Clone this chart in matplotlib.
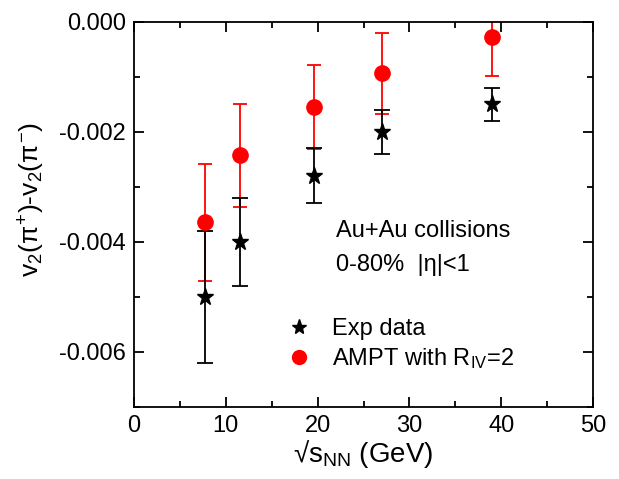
import matplotlib
matplotlib.use("Agg")
import matplotlib.pyplot as plt
from matplotlib.lines import Line2D
from matplotlib.ticker import MultipleLocator

plt.rcParams['font.family'] = ['Liberation Sans', 'DejaVu Sans']
plt.rcParams['mathtext.fontset'] = 'custom'
plt.rcParams['mathtext.rm'] = 'Liberation Sans'
plt.rcParams['mathtext.it'] = 'Liberation Sans'

energy = [7.7, 11.5, 19.6, 27, 39]
exp_v = [-0.0050, -0.0040, -0.0028, -0.0020, -0.0015]
exp_err = [0.0012, 0.0008, 0.0005, 0.0004, 0.0003]
ampt_v = [-0.00365, -0.00243, -0.00155, -0.00094, -0.00027]
ampt_err = [0.00106, 0.00094, 0.00076, 0.00074, 0.00072]

fig = plt.figure(figsize=(6.19, 4.79), dpi=100)
ax = fig.add_axes([0.2165, 0.151, 0.7415, 0.8037])

ax.errorbar(energy, ampt_v, yerr=ampt_err, fmt='none', ecolor='red',
            elinewidth=1.3, capsize=5, capthick=1.3, zorder=2)
ax.errorbar(energy, exp_v, yerr=exp_err, fmt='none', ecolor='black',
            elinewidth=1.3, capsize=6, capthick=1.3, zorder=2)
ax.plot(energy, ampt_v, 'o', color='red', markersize=11, zorder=3)
ax.plot(energy, exp_v, '*', color='black', markersize=12.5, zorder=4)

ax.set_xlim(0, 50)
ax.set_ylim(-0.007, 0.0)
ax.xaxis.set_major_locator(MultipleLocator(10))
ax.xaxis.set_minor_locator(MultipleLocator(5))
ax.yaxis.set_major_locator(MultipleLocator(0.002))
ax.yaxis.set_minor_locator(MultipleLocator(0.001))
ax.yaxis.set_major_formatter(matplotlib.ticker.FormatStrFormatter('%.3f'))
ax.tick_params(which='both', direction='in', top=True, right=True, width=1.3)
ax.tick_params(which='major', length=7, labelsize=17, pad=6)
ax.tick_params(which='minor', length=4)
for s in ax.spines.values():
    s.set_linewidth(1.3)

ax.set_xlabel('√s$_{\\rm NN}$ (GeV)', fontsize=20, labelpad=1)
ax.set_ylabel(r'v$_2$($\pi^{+}$)-v$_2$($\pi^{-}$)', fontsize=19)
ax.yaxis.set_label_coords(-0.19, 0.537)

ax.text(0.44, 0.441, 'Au+Au collisions', transform=ax.transAxes, fontsize=17)
ax.text(0.44, 0.352, '0-80%  |η|<1', transform=ax.transAxes, fontsize=17)

handles = [Line2D([], [], marker='*', color='black', linestyle='none', markersize=11),
           Line2D([], [], marker='o', color='red', linestyle='none', markersize=10)]
ax.legend(handles, ['Exp data', r'AMPT with R$_{\rm IV}$=2'], loc='upper left',
          bbox_to_anchor=(0.283, 0.285), frameon=False, fontsize=17,
          handlelength=1.2, handletextpad=0.8, labelspacing=0.25)

fig.savefig('out.png', dpi=100)
